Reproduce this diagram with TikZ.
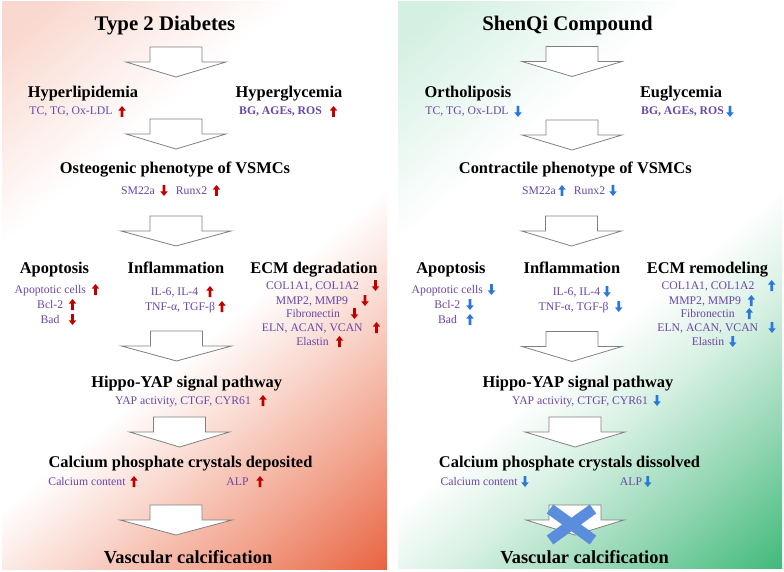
\documentclass[tikz,border=0pt]{standalone}
\usepackage{fontspec}
\setmainfont{Liberation Serif}
\definecolor{txtpurple}{HTML}{6A46A6}
\definecolor{ared}{HTML}{C00000}
\definecolor{ablue}{HTML}{2A78DC}
\definecolor{xblue}{HTML}{5A8EDC}
\definecolor{rpink}{HTML}{F9D8CF}
\definecolor{rlight}{HTML}{FADBD2}
\definecolor{rmid}{HTML}{F2A48E}
\definecolor{rdeep}{HTML}{E8603C}
\definecolor{gpale}{HTML}{D4F0E3}
\definecolor{glight}{HTML}{D8F1E4}
\definecolor{gmid}{HTML}{92D6B2}
\definecolor{gdeep}{HTML}{3CB878}
\definecolor{arrgray}{HTML}{808080}
\pgfdeclarehorizontalshading{redgrad}{100bp}{color(0bp)=(rpink); color(18bp)=(rpink); color(34bp)=(white); color(55bp)=(white); color(63bp)=(rlight); color(74bp)=(rmid); color(86bp)=(rdeep); color(100bp)=(rdeep)}
\pgfdeclarehorizontalshading{greengrad}{100bp}{color(0bp)=(gpale); color(18bp)=(gpale); color(34bp)=(white); color(55bp)=(white); color(63bp)=(glight); color(74bp)=(gmid); color(86bp)=(gdeep); color(100bp)=(gdeep)}
\tikzset{
  ttl/.style={font=\bfseries\fontsize{20.8}{24}\selectfont, anchor=base, inner sep=0pt},
  hd/.style={font=\bfseries\fontsize{16.4}{19}\selectfont, anchor=base, inner sep=0pt},
  hdbig/.style={font=\bfseries\fontsize{18.4}{21}\selectfont, anchor=base, inner sep=0pt},
  item/.style={font=\fontsize{11.7}{13}\selectfont, text=txtpurple, anchor=base, inner sep=0pt},
  itemb/.style={font=\bfseries\fontsize{11.7}{13}\selectfont, text=txtpurple, anchor=base, inner sep=0pt},
  arrline/.style={draw=arrgray, line width=0.8pt, fill=white, line join=miter},
  pics/bigarr/.style={code={
    \path[arrline] (-26,0) -- (26,0) -- (26,15) -- (#1,15) -- (0,30) -- (-#1,15) -- (-26,15) -- cycle;}},
  pics/uarr/.style={code={
    \fill[#1] (-1.4,5.5) -- (1.4,5.5) -- (1.4,-0.8) -- (3.8,-0.8) -- (0,-5.5) -- (-3.8,-0.8) -- (-1.4,-0.8) -- cycle;}},
  pics/darr/.style={code={
    \fill[#1] (-1.4,-5.5) -- (1.4,-5.5) -- (1.4,0.8) -- (3.8,0.8) -- (0,5.5) -- (-3.8,0.8) -- (-1.4,0.8) -- cycle;}},
}
\begin{document}
\begin{tikzpicture}[x=1pt,y=-1pt]
\useasboundingbox (0,0) rectangle (784,572);
\fill[white] (0,0) rectangle (784,572);
% panels
\fill[shading=redgrad, shading angle=-50] (2,2) rectangle (387,569);
\fill[shading=greengrad, shading angle=-50] (398,2) rectangle (782,568);

% ================= LEFT =================
\node[ttl] (lt) at (165,31) {Type 2 Diabetes};
\pic at (176,47) {bigarr=50};
\node[hd] (lhl) at (83,98) {Hyperlipidemia};
\node[item] (lhl1) at (71,115) {TC, TG, Ox-LDL};
\pic at (122,111.5) {uarr=ared};
\node[hd] (lhg) at (289,98) {Hyperglycemia};
\node[itemb] (lhg1) at (280.5,115) {BG, AGEs, ROS};
\pic at (333.5,111.5) {uarr=ared};
\pic at (176,119) {bigarr=50};
\node[hd] (lost) at (175,174) {Osteogenic phenotype of VSMCs};
\node[item] (lsm) at (138,194) {SM22a};
\pic at (164,190.5) {darr=ared};
\node[item] (lrx) at (191.5,194) {Runx2};
\pic at (216.5,190.5) {uarr=ared};
\pic at (176,216) {bigarr=55};
\node[hd] (lap) at (54.5,273) {Apoptosis};
\node[hd] (lin) at (176,273) {Inflammation};
\node[hd] (lecm) at (314,273) {ECM degradation};
\node[item] (lap1) at (50.3,293) {Apoptotic cells};
\pic at (95.5,289.5) {uarr=ared};
\node[item] (lap2) at (50.2,308) {Bcl-2};
\pic at (72.5,304.5) {uarr=ared};
\node[item] (lap3) at (50,323) {Bad};
\pic at (72.5,319.5) {darr=ared};
\node[item] (lin1) at (174.5,295) {IL-6, IL-4};
\pic at (210,291.5) {uarr=ared};
\node[item] (lin2) at (180,310) {TNF-α, TGF-β};
\pic at (222,306.5) {uarr=ared};
\node[item] (lecm1) at (312.5,289) {COL1A1, COL1A2};
\pic at (375.5,285.5) {darr=ared};
\node[item] (lecm2) at (312,304) {MMP2, MMP9};
\pic at (365,300.5) {darr=ared};
\node[item] (lecm3) at (313,317) {Fibronectin};
\pic at (354.5,313.5) {darr=ared};
\node[item] (lecm4) at (312.3,331) {ELN, ACAN, VCAN};
\pic at (376.5,327.5) {uarr=ared};
\node[item] (lecm5) at (312.5,345) {Elastin};
\pic at (339.5,341.5) {uarr=ared};
\pic at (176.5,331) {bigarr=55};
\node[hd] (lhip) at (186.7,387) {Hippo-YAP signal pathway};
\node[item] (lhip1) at (183,404) {YAP activity, CTGF, CYR61};
\pic at (263,400.5) {uarr=ared};
\pic at (179.5,417) {bigarr=50};
\node[hd] (lca) at (180.5,467) {Calcium phosphate crystals deposited};
\node[item] (lca1) at (87,485) {Calcium content};
\pic at (134,481.5) {uarr=ared};
\node[item] (lca2) at (237.5,485) {ALP};
\pic at (260,481.5) {uarr=ared};
\pic at (176,505) {bigarr=56};
\node[hdbig] (lvc) at (188,563) {Vascular calcification};

% ================= RIGHT =================
\node[ttl] (rt) at (567.5,31) {ShenQi Compound};
\pic at (572,46.5) {bigarr=50};
\node[hd] (rol) at (468,98) {Ortholiposis};
\node[item] (rol1) at (467,115) {TC, TG, Ox-LDL};
\pic at (518,111.5) {darr=ablue};
\node[hd] (reg) at (681,98) {Euglycemia};
\node[itemb] (reg1) at (682.5,115) {BG, AGEs, ROS};
\pic at (730,111.5) {darr=ablue};
\pic at (572,120) {bigarr=50};
\node[hd] (rcon) at (575.3,174) {Contractile phenotype of VSMCs};
\node[item] (rsm) at (539,194) {SM22a};
\pic at (562,190.5) {uarr=ablue};
\node[item] (rrx) at (589.5,194) {Runx2};
\pic at (613,190.5) {darr=ablue};
\pic at (571.5,216) {bigarr=50};
\node[hd] (rap) at (451,273) {Apoptosis};
\node[hd] (rin) at (572,273) {Inflammation};
\node[hd] (recm) at (707.5,273) {ECM remodeling};
\node[item] (rap1) at (447.3,293) {Apoptotic cells};
\pic at (491.5,289.5) {darr=ablue};
\node[item] (rap2) at (447.3,308) {Bcl-2};
\pic at (470,304.5) {darr=ablue};
\node[item] (rap3) at (447.5,323) {Bad};
\pic at (470,319.5) {uarr=ablue};
\node[item] (rin1) at (576.5,295) {IL-6, IL-4};
\pic at (607,291.5) {darr=ablue};
\node[item] (rin2) at (573.7,310) {TNF-α, TGF-β};
\pic at (618.7,306.5) {darr=ablue};
\node[item] (recm1) at (708,289) {COL1A1, COL1A2};
\pic at (771.7,285.5) {uarr=ablue};
\node[item] (recm2) at (705,304) {MMP2, MMP9};
\pic at (751.3,300.5) {uarr=ablue};
\node[item] (recm3) at (707.7,317) {Fibronectin};
\pic at (749.3,313.5) {uarr=ablue};
\node[item] (recm4) at (707.8,331) {ELN, ACAN, VCAN};
\pic at (772,327.5) {darr=ablue};
\node[item] (recm5) at (708,345) {Elastin};
\pic at (732.7,341.5) {darr=ablue};
\pic at (572,331.5) {bigarr=50};
\node[hd] (rhip) at (578,387) {Hippo-YAP signal pathway};
\node[item] (rhip1) at (580,404) {YAP activity, CTGF, CYR61};
\pic at (657,400.5) {darr=ablue};
\pic at (575,417) {bigarr=50};
\node[hd] (rca) at (569.5,467) {Calcium phosphate crystals dissolved};
\node[item] (rca1) at (479,485) {Calcium content};
\pic at (525,481.5) {darr=ablue};
\node[item] (rca2) at (631,485) {ALP};
\pic at (647.7,481.5) {darr=ablue};
\pic at (575,505) {bigarr=49};
\coordinate (xa) at (550,509);
\coordinate (xb) at (593,540);
\coordinate (xc) at (593,509);
\coordinate (xd) at (550,540);
\draw[xblue, line width=11pt] (xa) -- (xb) (xc) -- (xd);
\node[hdbig] (rvc) at (584.5,563) {Vascular calcification};
\end{tikzpicture}
\end{document}
